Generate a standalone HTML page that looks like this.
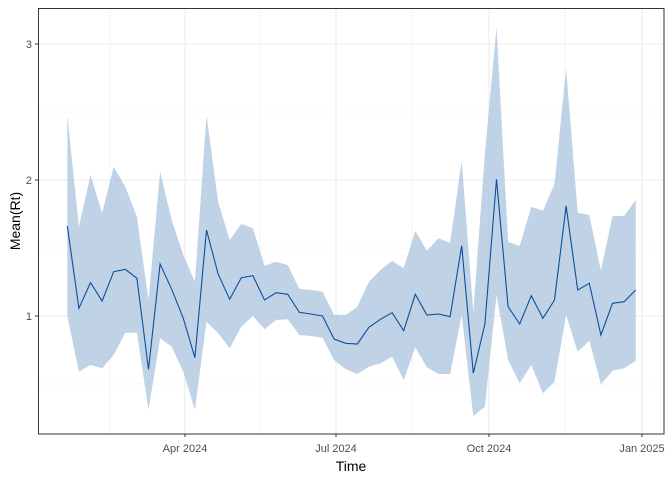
<!DOCTYPE html>
<html><head><meta charset="utf-8"><style>body{margin:0;background:#fff}svg{display:block;font-family:"Liberation Sans",sans-serif}</style></head><body>
<svg width="672" height="480" viewBox="0 0 672 480">
<rect x="0" y="0" width="672" height="480" fill="#fff"/>
<g stroke="#ebebeb" stroke-width="0.6">
<line x1="38" x2="664" y1="112" y2="112"/><line x1="38" x2="664" y1="248" y2="248"/><line x1="38" x2="664" y1="384" y2="384"/>
<line x1="110" x2="110" y1="8" y2="434"/><line x1="260" x2="260" y1="8" y2="434"/><line x1="412" x2="412" y1="8" y2="434"/><line x1="565" x2="565" y1="8" y2="434"/>
</g>
<g stroke="#ebebeb" stroke-width="1.1">
<line x1="38" x2="664" y1="44" y2="44"/><line x1="38" x2="664" y1="180" y2="180"/><line x1="38" x2="664" y1="316" y2="316"/>
<line x1="185" x2="185" y1="8" y2="434"/><line x1="336" x2="336" y1="8" y2="434"/><line x1="489" x2="489" y1="8" y2="434"/><line x1="642" x2="642" y1="8" y2="434"/>
</g>
<polygon fill="#a8c2dd" fill-opacity="0.72" points="67.3,115 78.9,226.7 90.5,175 102.1,213.3 113.7,166.7 125.3,186.7 136.9,216.7 148.5,300 160.1,171.7 171.7,220 183.3,255 194.9,281.7 206.5,115 218.1,201.7 229.7,240 241.3,224 252.9,228.3 264.5,265.7 276.1,261.7 287.7,265 299.3,289 310.9,290 322.5,291.7 334.1,315 345.7,315 357.3,306.7 368.9,281.7 380.5,270 392.1,260.7 403.7,268.3 415.3,230.7 426.9,250.7 438.5,238.3 450.1,242.7 461.7,160.7 473.3,311.7 484.9,153.3 496.5,26.7 508.1,241.7 519.7,246 531.3,206.7 542.9,210.7 554.5,184 566.1,68.3 577.7,212.7 589.3,215 600.9,270.7 612.5,216 624.1,216 635.7,200 635.7,360.7 624.1,368.3 612.5,370.7 600.9,384.3 589.3,340.7 577.7,351.7 566.1,315 554.5,381.7 542.9,393.3 531.3,365 519.7,383.3 508.1,360 496.5,295 484.9,406.7 473.3,416 461.7,315 450.1,374 438.5,374 426.9,367.3 415.3,347.3 403.7,380 392.1,356.7 380.5,363.3 368.9,366.7 357.3,374 345.7,369.3 334.1,360 322.5,337.7 310.9,336 299.3,335 287.7,319.3 276.1,320 264.5,329.3 252.9,316 241.3,326.7 229.7,348.3 218.1,333.3 206.5,321.7 194.9,410 183.3,371.7 171.7,346.7 160.1,338.3 148.5,410 136.9,332.7 125.3,332.7 113.7,355 102.1,368.3 90.5,365 78.9,371.7 67.3,316"/>
<polyline fill="none" stroke="#0a4f9e" stroke-width="1.1" points="67.3,226 78.9,308.3 90.5,282.7 102.1,301 113.7,271.7 125.3,269.3 136.9,278.3 148.5,369.3 160.1,264 171.7,289.3 183.3,318.3 194.9,357.7 206.5,230 218.1,274 229.7,299.3 241.3,277.7 252.9,275.7 264.5,300 276.1,292.7 287.7,294.3 299.3,312.3 310.9,314 322.5,316 334.1,339 345.7,343.3 357.3,344 368.9,327.3 380.5,319.3 392.1,312.7 403.7,330.7 415.3,294.3 426.9,315 438.5,314 450.1,316.7 461.7,245.7 473.3,373.3 484.9,324 496.5,179.3 508.1,306.7 519.7,324 531.3,295.7 542.9,318.3 554.5,300 566.1,206 577.7,290 589.3,283.3 600.9,335 612.5,303.3 624.1,301.7 635.7,290"/>
<rect x="38.5" y="8.5" width="625.5" height="425.5" fill="none" stroke="#333" stroke-width="1"/>
<g stroke="#333" stroke-width="1">
<line x1="35" x2="38" y1="44" y2="44"/><line x1="35" x2="38" y1="180" y2="180"/><line x1="35" x2="38" y1="316" y2="316"/>
<line x1="185" x2="185" y1="434" y2="437"/><line x1="336" x2="336" y1="434" y2="437"/><line x1="489" x2="489" y1="434" y2="437"/><line x1="642" x2="642" y1="434" y2="437"/>
</g>
<g font-size="11" fill="#4d4d4d">
<text x="32" y="48" text-anchor="end">3</text><text x="32" y="184" text-anchor="end">2</text><text x="32" y="320" text-anchor="end">1</text>
<text x="185" y="452" text-anchor="middle">Apr 2024</text><text x="336" y="452" text-anchor="middle">Jul 2024</text><text x="489" y="452" text-anchor="middle">Oct 2024</text><text x="642" y="452" text-anchor="middle">Jan 2025</text>
</g>
<text x="351" y="471" font-size="14" text-anchor="middle" fill="#000">Time</text>
<text transform="translate(20,221) rotate(-90)" font-size="14" text-anchor="middle" fill="#000">Mean(Rt)</text>
</svg>
</body></html>
